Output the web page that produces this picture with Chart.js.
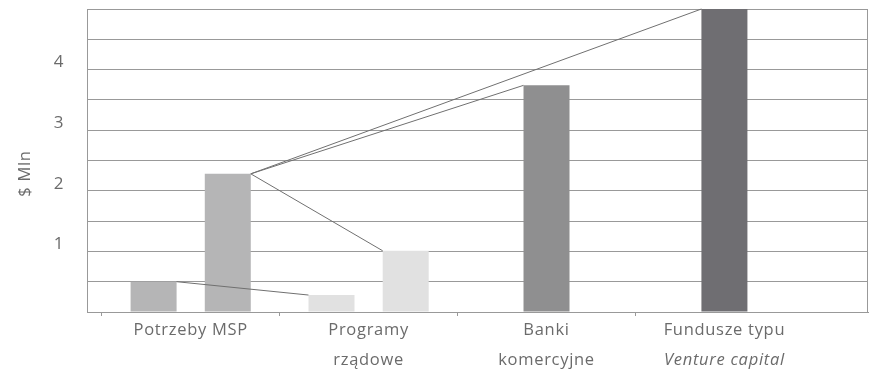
<!DOCTYPE html>
<html>
<head>
<meta charset="utf-8">
<script src="https://cdn.jsdelivr.net/npm/chart.js@4/dist/chart.umd.min.js"></script>
<style>
html,body{margin:0;padding:0;background:#fff;}
canvas{display:block;}
</style>
</head>
<body>
<canvas id="c" width="869" height="371"></canvas>
<script>
// ---- data ----
const categories = [["Potrzeby MSP"], ["Programy", "rządowe"], ["Banki", "komercyjne"], ["Fundusze typu", "Venture capital"]];
const seriesA = [0.5, 0.28, 3.74, 5.0];
const seriesB = [2.28, 1.01, null, null];
const categoryColors = ["#b5b5b6", "#e1e1e1", "#8f8f90", "#6f6e72"];
const yTickLabels = [1, 2, 3, 4];
const yTitle = "$ Mln";
// connectors: from top-right of [dataset, index] to top-left of [dataset, index]
const links = [[[0, 0], [0, 1]], [[1, 0], [1, 1]], [[1, 0], [0, 2]], [[1, 0], [0, 3]]];

const GRID = "#999999";
const TEXT = "#6b6b6b";
const FONT = "'Open Sans', 'Noto Sans', sans-serif";

const decor = {
  id: 'decor',
  afterDatasetsDraw(chart) {
    const ctx = chart.ctx;
    ctx.save();
    ctx.strokeStyle = "#707070";
    ctx.lineWidth = 1;
    links.forEach(([a, b]) => {
      const ea = chart.getDatasetMeta(a[0]).data[a[1]];
      const eb = chart.getDatasetMeta(b[0]).data[b[1]];
      ctx.beginPath();
      ctx.moveTo(ea.x + ea.width / 2, ea.y);
      ctx.lineTo(eb.x - eb.width / 2, eb.y);
      ctx.stroke();
    });
    // right frame
    const ca = chart.chartArea;
    ctx.strokeStyle = GRID;
    ctx.beginPath();
    ctx.moveTo(Math.round(ca.right) - 0.5, ca.top);
    ctx.lineTo(Math.round(ca.right) - 0.5, ca.bottom);
    ctx.stroke();
    ctx.restore();
  },
  afterDraw(chart) {
    const ctx = chart.ctx;
    const xs = chart.scales.x;
    const ca = chart.chartArea;
    ctx.save();
    ctx.fillStyle = TEXT;
    ctx.textAlign = 'center';
    ctx.textBaseline = 'middle';
    try { ctx.letterSpacing = '0.7px'; } catch (e) {}
    categories.forEach((lines, i) => {
      const x = xs.getPixelForValue(i);
      lines.forEach((ln, j) => {
        const italic = (i === 3 && j === 1);
        ctx.font = (italic ? 'italic ' : '') + '16.5px ' + FONT;
        ctx.fillText(ln, x, xs.top + 18 + j * 30);
      });
    });
    // y axis title
    ctx.translate(chart.scales.y.left + 25, (ca.top + ca.bottom) / 2 + 13);
    ctx.rotate(-Math.PI / 2);
    ctx.font = '16.5px ' + FONT;
    ctx.fillText(yTitle, 0, 0);
    ctx.restore();
  }
};

new Chart(document.getElementById('c'), {
  type: 'bar',
  data: {
    labels: categories,
    datasets: [
      { data: seriesA, backgroundColor: categoryColors, skipNull: true },
      { data: seriesB, backgroundColor: categoryColors, skipNull: true }
    ]
  },
  options: {
    responsive: false,
    animation: false,
    devicePixelRatio: 1,
    layout: { padding: { top: 9, right: 1, left: 0, bottom: 0 } },
    plugins: { legend: { display: false }, tooltip: { enabled: false } },
    datasets: { bar: { categoryPercentage: 0.834, barPercentage: 0.62, maxBarThickness: 46 } },
    scales: {
      x: {
        offset: true,
        afterBuildTicks(s) { s._startValue = -0.58; s._valueRange = 4.387; },
        afterFit(s) { s.height = 59; s.paddingLeft = 0; s.paddingRight = 0; },
        grid: {
          offset: true, drawOnChartArea: false, drawTicks: true, tickLength: 4,
          tickColor: (c) => (c.type === 'tick') ? GRID : 'rgba(0,0,0,0)',
          color: GRID
        },
        border: { display: true, color: GRID },
        ticks: { color: 'rgba(0,0,0,0)', font: { family: FONT, size: 15 }, maxRotation: 0 }
      },
      y: {
        min: 0, max: 5,
        afterFit(s) { s.width = 87.5; s.paddingTop = 0; s.paddingBottom = 0; },
        grid: { color: GRID, drawTicks: false },
        border: { display: true, color: GRID },
        ticks: {
          stepSize: 0.5,
          padding: 24,
          labelOffset: -7,
          color: TEXT,
          font: { family: FONT, size: 17 },
          callback: (v) => yTickLabels.includes(v) ? String(v) : ''
        },
        title: { display: false }
      }
    }
  },
  plugins: [decor]
});
</script>
</body>
</html>
